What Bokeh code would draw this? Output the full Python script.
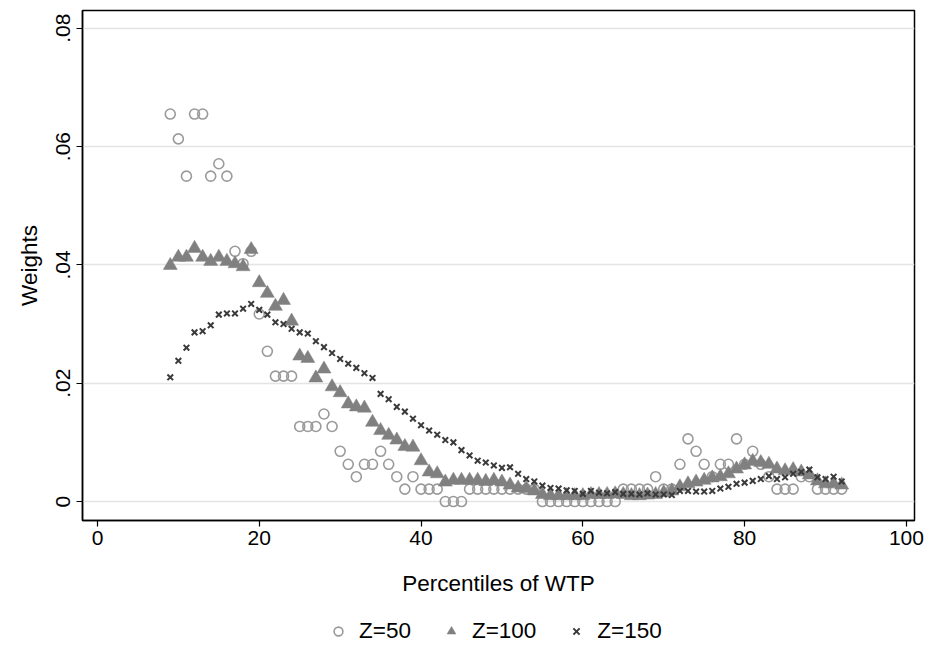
from bokeh.plotting import figure
from bokeh.layouts import column
from bokeh.models import Range1d, FixedTicker, CustomJSTickFormatter, Legend, LegendItem, ColumnDataSource
from bokeh.embed import file_html
from bokeh.resources import INLINE

# ---- data ----
pct = list(range(9, 93))

z50 = [0.0655, 0.0613, 0.0550, 0.0655, 0.0655, 0.0550, 0.0571, 0.0550, 0.0423, 0.0402,
       0.0423, 0.0317, 0.0254, 0.0212, 0.0212, 0.0212, 0.0127, 0.0127, 0.0127, 0.0148,
       0.0127, 0.0085, 0.0063, 0.0042, 0.0063, 0.0063, 0.0085, 0.0063, 0.0042, 0.0021,
       0.0042, 0.0021, 0.0021, 0.0021, 0.0, 0.0, 0.0, 0.0021, 0.0021, 0.0021,
       0.0021, 0.0021, 0.0021, 0.0021, 0.0021, 0.0021, 0.0, 0.0, 0.0, 0.0,
       0.0, 0.0, 0.0, 0.0, 0.0, 0.0, 0.0021, 0.0021, 0.0021, 0.0021,
       0.0042, 0.0021, 0.0021, 0.0063, 0.0106, 0.0085, 0.0063, 0.0042, 0.0063, 0.0063,
       0.0106, 0.0063, 0.0085, 0.0063, 0.0042, 0.0021, 0.0021, 0.0021, 0.0042, 0.0042,
       0.0021, 0.0021, 0.0021, 0.0021]

z100 = [0.0399, 0.0413, 0.0413, 0.0428, 0.0413, 0.0406, 0.0413, 0.0406, 0.0402, 0.0397,
        0.0426, 0.0370, 0.0352, 0.0330, 0.0340, 0.0305, 0.0246, 0.0242, 0.0209, 0.0224,
        0.0194, 0.0184, 0.0165, 0.0160, 0.0158, 0.0134, 0.0120, 0.0112, 0.0104, 0.0093,
        0.0092, 0.0069, 0.0050, 0.0047, 0.0033, 0.0036, 0.0036, 0.0036, 0.0036, 0.0034,
        0.0036, 0.0033, 0.0028, 0.0023, 0.0022, 0.0018, 0.0012, 0.0010, 0.0010, 0.0010,
        0.0010, 0.0010, 0.0012, 0.0012, 0.0012, 0.0013, 0.0012, 0.0010, 0.0010, 0.0011,
        0.0012, 0.0015, 0.0018, 0.0025, 0.0030, 0.0033, 0.0036, 0.0040, 0.0042, 0.0047,
        0.0055, 0.0062, 0.0068, 0.0066, 0.0063, 0.0055, 0.0052, 0.0054, 0.0050, 0.0045,
        0.0035, 0.0030, 0.0030, 0.0028]

z150 = [0.0210, 0.0238, 0.0260, 0.0286, 0.0288, 0.0298, 0.0316, 0.0318, 0.0318, 0.0326,
        0.0334, 0.0324, 0.0316, 0.0303, 0.0300, 0.0292, 0.0286, 0.0284, 0.0271, 0.0261,
        0.0251, 0.0241, 0.0233, 0.0226, 0.0217, 0.0209, 0.0182, 0.0173, 0.0160, 0.0152,
        0.0140, 0.0129, 0.0120, 0.0113, 0.0104, 0.0100, 0.0087, 0.0078, 0.0069, 0.0066,
        0.0061, 0.0057, 0.0058, 0.0047, 0.0038, 0.0034, 0.0027, 0.0023, 0.0022, 0.0019,
        0.0018, 0.0013, 0.0018, 0.0015, 0.0014, 0.0016, 0.0013, 0.0013, 0.0012, 0.0014,
        0.0012, 0.0012, 0.0011, 0.0018, 0.0018, 0.0017, 0.0017, 0.0018, 0.0022, 0.0025,
        0.0030, 0.0032, 0.0035, 0.0038, 0.0043, 0.0038, 0.0041, 0.0047, 0.0050, 0.0054,
        0.0041, 0.0038, 0.0042, 0.0034]

x_ticks = [0, 20, 40, 60, 80, 100]
y_ticks = [0, 0.02, 0.04, 0.06, 0.08]
series_labels = ["Z=50", "Z=100", "Z=150"]
x_title = "Percentiles of WTP"
y_title = "Weights"

FONT = "Liberation Sans"

src = ColumnDataSource(dict(x=pct, z50=z50, z100=z100, z150=z150))

STYLES = [
    dict(y="z50", marker="circle", size=10, fill_color=None, line_color="#9a9a9a", line_width=1.6),
    dict(y="z100", marker="triangle", size=14, fill_color="#808080", line_color="#808080", line_width=0.5),
    dict(y="z150", marker="x", size=8, line_color="#3a3a3a", line_width=2),
]

p = figure(width=927, height=600, output_backend="svg", toolbar_location=None,
           x_range=Range1d(-1.85, 101.0), y_range=Range1d(-0.0032, 0.083),
           min_border_left=82, min_border_right=13, min_border_top=10, min_border_bottom=80)
p.background_fill_color = "white"
p.border_fill_color = "white"
p.outline_line_color = "black"
p.outline_line_width = 1.5

for st in STYLES:
    p.scatter(x="x", source=src, **st)

p.xgrid.visible = False
p.ygrid.grid_line_color = "#e4e4e4"
p.ygrid.grid_line_width = 1.5

for ax in (p.xaxis[0], p.yaxis[0]):
    ax.axis_line_color = "black"
    ax.axis_line_width = 1.5
    ax.major_tick_line_color = "black"
    ax.major_tick_line_width = 1.2
    ax.major_tick_out = 6
    ax.major_tick_in = 0
    ax.minor_tick_line_color = None
    ax.major_label_text_font = FONT
    ax.major_label_text_font_size = "21px"
    ax.major_label_text_color = "black"
    ax.axis_label_text_font = FONT
    ax.axis_label_text_font_size = "22.5px"
    ax.axis_label_text_font_style = "normal"
    ax.axis_label_text_color = "black"

p.xaxis.ticker = FixedTicker(ticks=x_ticks)
p.yaxis.ticker = FixedTicker(ticks=y_ticks)
p.yaxis.formatter = CustomJSTickFormatter(
    code="return Math.abs(tick) < 1e-12 ? '0' : tick.toFixed(2).replace(/^0/, '');")
p.yaxis.major_label_orientation = "vertical"
p.xaxis.axis_label = x_title
p.yaxis.axis_label = y_title
p.xaxis.major_label_standoff = 4
p.xaxis.axis_label_standoff = 23
p.yaxis.major_label_standoff = 6
p.yaxis.axis_label_standoff = 12

# ---- legend strip below (same series, data kept out of view) ----
lp = figure(width=927, height=51, output_backend="svg", toolbar_location=None,
            x_range=Range1d(1000, 1001), y_range=Range1d(0, 1),
            x_axis_type=None, y_axis_type=None,
            min_border_left=0, min_border_right=0, min_border_top=0, min_border_bottom=0)
lp.outline_line_color = None
lp.background_fill_color = "white"
lp.border_fill_color = "white"
lrs = [lp.scatter(x="x", source=src, **st) for st in STYLES]

legend = Legend(items=[LegendItem(label=lab, renderers=[r]) for lab, r in zip(series_labels, lrs)],
                orientation="horizontal", location=(245, 7))
legend.label_text_font = FONT
legend.label_text_font_size = "22.5px"
legend.label_text_color = "black"
legend.border_line_color = None
legend.background_fill_alpha = 0
legend.glyph_width = 22
legend.glyph_height = 22
legend.label_standoff = 10
legend.spacing = 29
legend.margin = 0
legend.padding = 4
lp.add_layout(legend, "center")

open("out.html", "w").write(file_html(column(p, lp, spacing=0), INLINE))
